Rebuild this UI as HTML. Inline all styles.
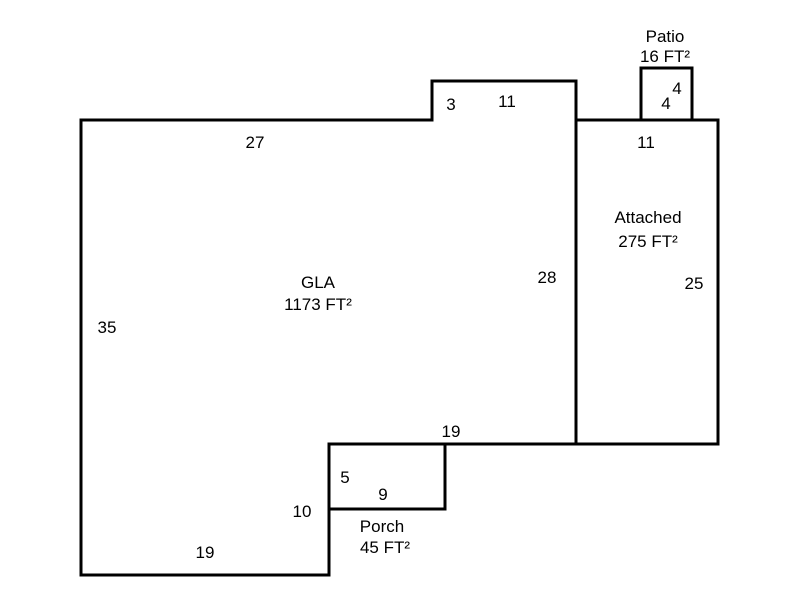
<!DOCTYPE html>
<html><head><style>
html,body{margin:0;padding:0;background:#fff;}
svg{display:block;}
text{font-family:"Liberation Sans",sans-serif;font-size:17px;fill:#000;text-anchor:middle;}
</style></head><body>
<svg width="800" height="600" viewBox="0 0 800 600">
<g fill="none" stroke="#000" stroke-width="3" stroke-linejoin="miter">
<path d="M81,120 L432,120 L432,81 L576,81 L576,444 L329,444 L329,575 L81,575 Z"/>
<path d="M576,120 L718,120 L718,444 L576,444"/>
<path d="M641,120 L641,68 L692,68 L692,120"/>
<path d="M329,444 L445,444 L445,509 L329,509"/>
</g>
<text x="665" y="42">Patio</text>
<text x="665" y="62">16 FT²</text>
<text x="677" y="94">4</text>
<text x="666" y="109">4</text>
<text x="451" y="110">3</text>
<text x="507" y="107">11</text>
<text x="255" y="148">27</text>
<text x="646" y="148">11</text>
<text x="648" y="223">Attached</text>
<text x="648" y="247">275 FT²</text>
<text x="547" y="283">28</text>
<text x="694" y="289">25</text>
<text x="318" y="288">GLA</text>
<text x="318" y="310">1173 FT²</text>
<text x="107" y="333">35</text>
<text x="451" y="437">19</text>
<text x="345" y="483">5</text>
<text x="383" y="500">9</text>
<text x="302" y="517">10</text>
<text x="382" y="532">Porch</text>
<text x="385" y="553">45 FT²</text>
<text x="205" y="558">19</text>
</svg>
</body></html>
